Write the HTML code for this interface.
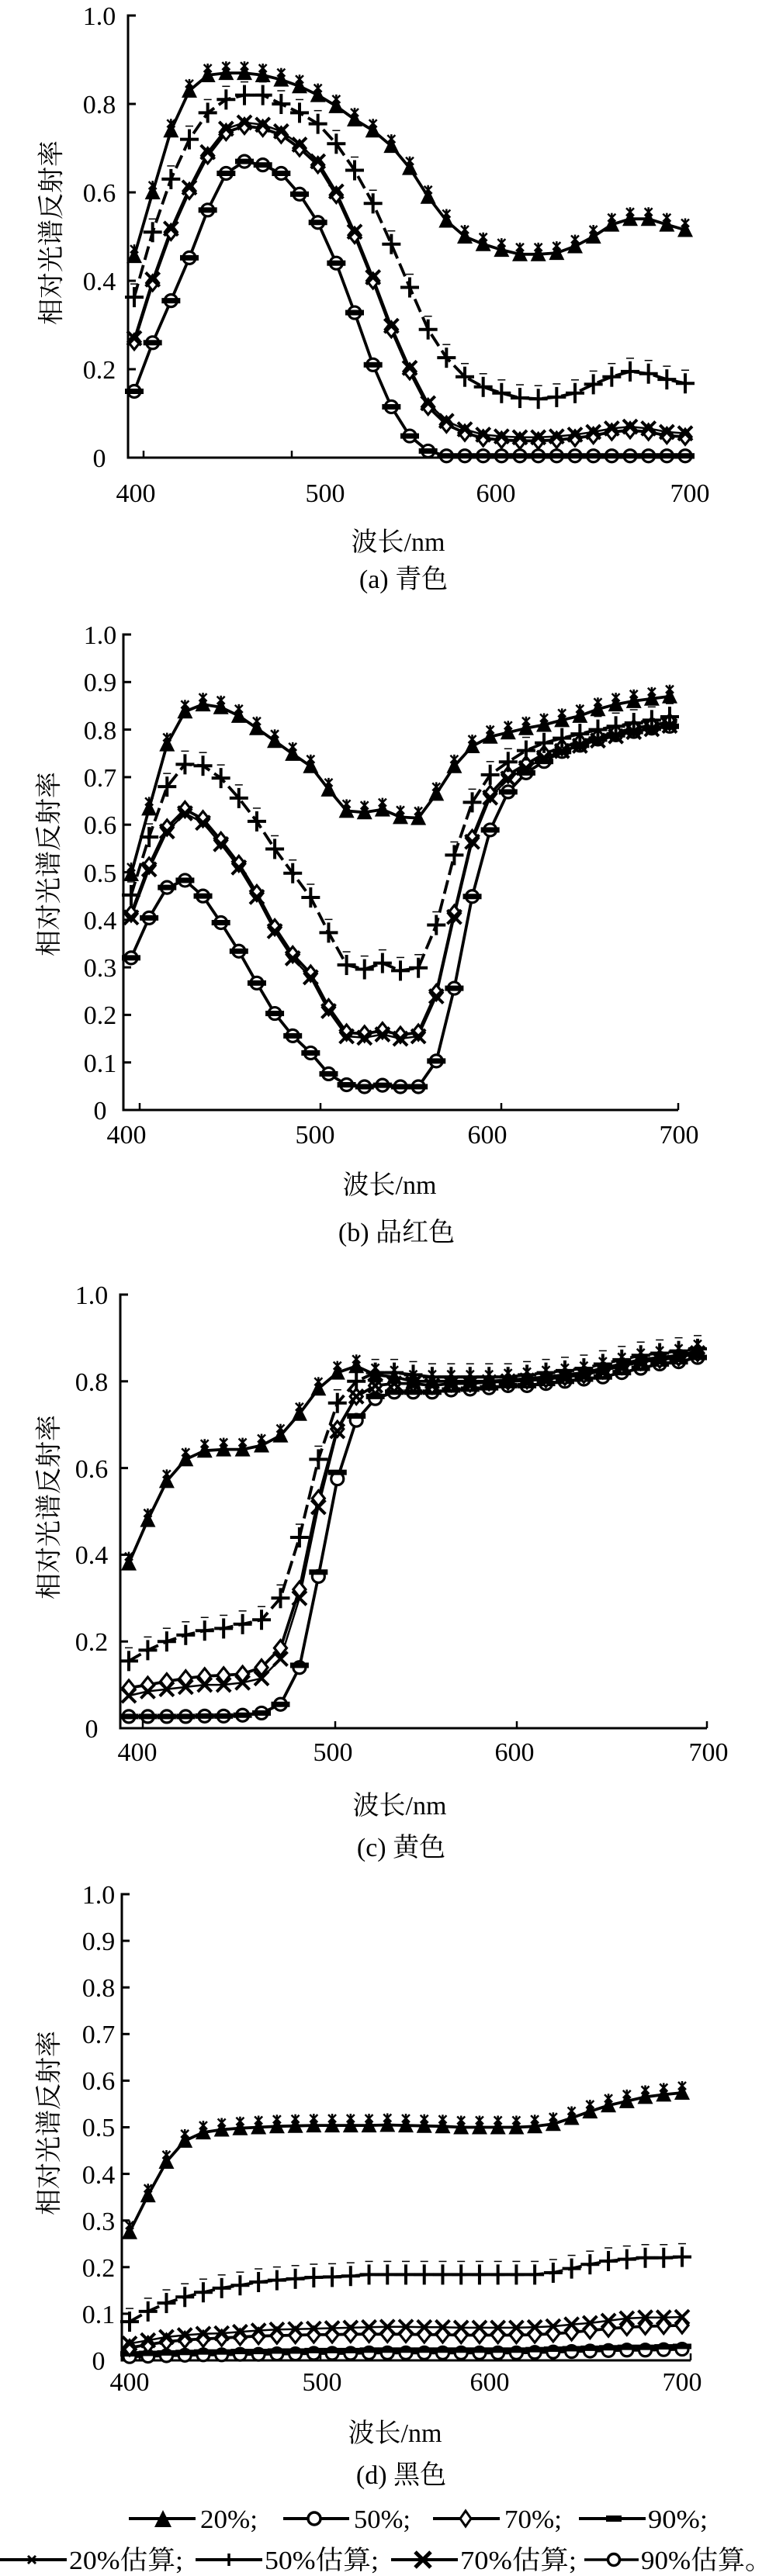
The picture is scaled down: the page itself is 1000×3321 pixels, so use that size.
<!DOCTYPE html>
<html>
<head>
<meta charset="utf-8">
<style>
html,body{margin:0;padding:0;background:#fff;}
svg{display:block;}
text{font-family:"Liberation Serif","Noto Serif CJK SC",serif;fill:#000;}
</style>
</head>
<body>
<svg id="s" width="1000" height="3321" viewBox="0 0 1000 3321" xmlns="http://www.w3.org/2000/svg">
<rect x="0" y="0" width="1000" height="3321" fill="#fff"/>
<g id="plots"></g>

<!-- Panel a tick labels -->
<g font-size="34" text-anchor="middle">
<text x="128" y="602">0</text>
<text x="128" y="488">0.2</text>
<text x="128" y="374">0.4</text>
<text x="128" y="260">0.6</text>
<text x="128" y="146">0.8</text>
<text x="128" y="32">1.0</text>
<text x="175" y="647">400</text>
<text x="419" y="647">500</text>
<text x="639" y="647">600</text>
<text x="889" y="647">700</text>
</g>
<!-- Panel b tick labels -->
<g font-size="34" text-anchor="middle">
<text x="129" y="1443">0</text>
<text x="129" y="1382">0.1</text>
<text x="129" y="1320">0.2</text>
<text x="129" y="1259">0.3</text>
<text x="129" y="1198">0.4</text>
<text x="129" y="1137">0.5</text>
<text x="129" y="1075">0.6</text>
<text x="129" y="1014">0.7</text>
<text x="129" y="953">0.8</text>
<text x="129" y="891">0.9</text>
<text x="129" y="830">1.0</text>
<text x="163" y="1474">400</text>
<text x="406" y="1474">500</text>
<text x="628" y="1474">600</text>
<text x="875" y="1474">700</text>
</g>
<!-- Panel c tick labels -->
<g font-size="34" text-anchor="middle">
<text x="118" y="2240">0</text>
<text x="118" y="2128">0.2</text>
<text x="118" y="2016">0.4</text>
<text x="118" y="1905">0.6</text>
<text x="118" y="1793">0.8</text>
<text x="118" y="1681">1.0</text>
<text x="177" y="2270">400</text>
<text x="429" y="2270">500</text>
<text x="663" y="2270">600</text>
<text x="913" y="2270">700</text>
</g>
<!-- Panel d tick labels -->
<g font-size="34" text-anchor="middle">
<text x="127" y="3055">0</text>
<text x="127" y="2995">0.1</text>
<text x="127" y="2935">0.2</text>
<text x="127" y="2875">0.3</text>
<text x="127" y="2815">0.4</text>
<text x="127" y="2754">0.5</text>
<text x="127" y="2694">0.6</text>
<text x="127" y="2634">0.7</text>
<text x="127" y="2574">0.8</text>
<text x="127" y="2514">0.9</text>
<text x="127" y="2454">1.0</text>
<text x="167" y="3082">400</text>
<text x="415" y="3082">500</text>
<text x="631" y="3082">600</text>
<text x="879" y="3082">700</text>
</g>

<!-- Axis titles and captions -->
<g font-size="34" text-anchor="middle">
<text x="513" y="710">波长/nm</text>
<text x="520" y="758">(a) 青色</text>
<text x="502" y="1539">波长/nm</text>
<text x="511" y="1600">(b) 品红色</text>
<text x="515" y="2339">波长/nm</text>
<text x="517" y="2393">(c) 黄色</text>
<text x="509" y="3148">波长/nm</text>
<text x="517" y="3202">(d) 黑色</text>
<text transform="translate(67,300) rotate(-90)" dominant-baseline="central">相对光谱反射率</text>
<text transform="translate(64,1114) rotate(-90)" dominant-baseline="central">相对光谱反射率</text>
<text transform="translate(64,1943) rotate(-90)" dominant-baseline="central">相对光谱反射率</text>
<text transform="translate(64,2737) rotate(-90)" dominant-baseline="central">相对光谱反射率</text>
</g>

<!-- Legend text -->
<g font-size="34">
<text x="258" y="3259" textLength="74" lengthAdjust="spacingAndGlyphs">20%;</text>
<text x="456" y="3259" textLength="73" lengthAdjust="spacingAndGlyphs">50%;</text>
<text x="650" y="3259" textLength="74" lengthAdjust="spacingAndGlyphs">70%;</text>
<text x="835" y="3259" textLength="77" lengthAdjust="spacingAndGlyphs">90%;</text>
<text x="89" y="3312" textLength="147" lengthAdjust="spacingAndGlyphs">20%估算;</text>
<text x="341" y="3312" textLength="147" lengthAdjust="spacingAndGlyphs">50%估算;</text>
<text x="593" y="3312" textLength="150" lengthAdjust="spacingAndGlyphs">70%估算;</text>
<text x="826" y="3312" textLength="169" lengthAdjust="spacingAndGlyphs">90%估算。</text>
</g>
</svg>
<script>
(function(){
const NS="http://www.w3.org/2000/svg";
const G=document.getElementById('plots');
function mk(t,a){const e=document.createElementNS(NS,t);for(const k in a)e.setAttribute(k,a[k]);G.appendChild(e);return e;}
function ln(x1,y1,x2,y2,w){mk('line',{x1:x1,y1:y1,x2:x2,y2:y2,stroke:'#000','stroke-width':w||3});}
function poly(pts,dash,w){const a={points:pts.map(p=>p[0].toFixed(1)+','+p[1].toFixed(1)).join(' '),fill:'none',stroke:'#000','stroke-width':w||3.5,'stroke-linejoin':'round'};if(dash)a['stroke-dasharray']=dash;mk('polyline',a);}
const M={
 tri:(x,y,s)=>{s=s||10;mk('polygon',{points:`${x},${y-s-1} ${x-s},${y+s-1} ${x+s},${y+s-1}`,fill:'#000'});},
 star:(x,y)=>{y=y-9;ln(x-5,y-5,x+5,y+5,2.5);ln(x-5,y+5,x+5,y-5,2.5);ln(x,y-6,x,y+6,2.5);},
 plus:(x,y)=>{ln(x-12,y,x+12,y,4);ln(x,y-13,x,y+13,4);},
 tick:(x,y)=>ln(x-5,y-17,x+5,y-17,1.5),
 dia:(x,y)=>mk('polygon',{points:`${x},${y-10} ${x+8},${y} ${x},${y+10} ${x-8},${y}`,fill:'#fff',stroke:'#000','stroke-width':3.2}),
 X:(x,y)=>{ln(x-9,y-9,x+9,y+9,4);ln(x-9,y+9,x+9,y-9,4);},
 cir:(x,y)=>mk('circle',{cx:x,cy:y,r:8,fill:'#fff',stroke:'#000','stroke-width':3.2}),
 bar:(x,y)=>mk('rect',{x:x-12,y:y-3.5,width:24,height:7,fill:'#000'})
};
function add(arr,d){return arr.map(v=>v+d);}

// Panel a data
const aT=[0.456,0.60,0.74,0.83,0.865,0.87,0.87,0.865,0.855,0.84,0.82,0.795,0.765,0.74,0.705,0.655,0.59,0.536,0.50,0.483,0.47,0.46,0.46,0.463,0.478,0.50,0.527,0.54,0.54,0.527,0.515];
const aP=[0.363,0.51,0.63,0.72,0.78,0.81,0.82,0.82,0.80,0.78,0.755,0.71,0.65,0.575,0.483,0.385,0.29,0.226,0.183,0.16,0.146,0.135,0.133,0.137,0.146,0.166,0.183,0.195,0.19,0.177,0.168];
const aD=[0.262,0.395,0.51,0.603,0.683,0.736,0.75,0.745,0.73,0.70,0.662,0.594,0.503,0.40,0.29,0.195,0.115,0.075,0.056,0.044,0.04,0.038,0.038,0.04,0.044,0.05,0.058,0.062,0.058,0.05,0.047];
const aO=[0.15,0.26,0.355,0.452,0.56,0.643,0.67,0.662,0.643,0.596,0.532,0.44,0.328,0.21,0.115,0.049,0.015,0.004,0.004,0.004,0.004,0.004,0.004,0.004,0.004,0.004,0.004,0.004,0.004,0.004,0.004];
// Panel b
const bT=[0.496,0.634,0.769,0.838,0.853,0.847,0.829,0.803,0.776,0.749,0.723,0.674,0.629,0.626,0.632,0.616,0.614,0.665,0.723,0.765,0.785,0.794,0.803,0.81,0.82,0.829,0.843,0.853,0.86,0.865,0.87];
const bP=[0.452,0.574,0.68,0.727,0.724,0.698,0.656,0.607,0.549,0.498,0.447,0.373,0.305,0.296,0.309,0.293,0.299,0.389,0.536,0.647,0.705,0.732,0.756,0.772,0.782,0.791,0.80,0.807,0.814,0.82,0.827];
const bD=[0.413,0.514,0.594,0.632,0.612,0.567,0.518,0.456,0.384,0.327,0.287,0.216,0.163,0.16,0.167,0.158,0.163,0.247,0.414,0.572,0.665,0.705,0.727,0.749,0.763,0.774,0.785,0.794,0.803,0.809,0.816];
const bO=[0.32,0.404,0.468,0.483,0.45,0.394,0.334,0.267,0.203,0.156,0.12,0.076,0.053,0.049,0.052,0.049,0.049,0.103,0.256,0.449,0.589,0.669,0.709,0.733,0.754,0.767,0.78,0.789,0.796,0.803,0.807];
// Panel c
const cT=[0.38,0.48,0.57,0.62,0.64,0.643,0.643,0.652,0.675,0.725,0.783,0.82,0.835,0.815,0.81,0.80,0.80,0.80,0.80,0.80,0.803,0.806,0.81,0.815,0.82,0.83,0.84,0.85,0.855,0.86,0.87];
const cP=[0.155,0.18,0.20,0.215,0.225,0.23,0.24,0.25,0.30,0.44,0.62,0.75,0.80,0.82,0.82,0.815,0.81,0.81,0.81,0.81,0.81,0.815,0.82,0.825,0.83,0.84,0.85,0.86,0.865,0.87,0.875];
const cD=[0.093,0.10,0.108,0.115,0.12,0.122,0.125,0.14,0.185,0.32,0.53,0.69,0.765,0.79,0.795,0.795,0.79,0.795,0.795,0.798,0.80,0.802,0.805,0.81,0.815,0.825,0.835,0.845,0.85,0.855,0.865];
const cX=[0.075,0.085,0.09,0.095,0.10,0.10,0.105,0.115,0.16,0.30,0.51,0.685,0.765,0.79,0.795,0.795,0.79,0.795,0.795,0.798,0.80,0.802,0.805,0.81,0.815,0.825,0.835,0.845,0.85,0.855,0.865];
const cO=[0.027,0.027,0.027,0.027,0.028,0.028,0.03,0.035,0.055,0.14,0.35,0.575,0.71,0.76,0.775,0.775,0.775,0.78,0.782,0.785,0.79,0.79,0.795,0.80,0.805,0.81,0.82,0.83,0.84,0.845,0.855];
const cB=[0.027,0.027,0.027,0.027,0.028,0.028,0.03,0.035,0.055,0.145,0.36,0.59,0.72,0.765,0.775,0.775,0.775,0.78,0.782,0.785,0.79,0.79,0.795,0.80,0.805,0.81,0.82,0.83,0.84,0.845,0.855];
// Panel d
const dT=[0.275,0.354,0.426,0.471,0.489,0.495,0.498,0.50,0.502,0.503,0.504,0.504,0.504,0.504,0.505,0.504,0.503,0.502,0.50,0.50,0.50,0.50,0.502,0.507,0.52,0.534,0.547,0.556,0.565,0.57,0.574];
const dP=[0.083,0.105,0.123,0.136,0.146,0.155,0.161,0.168,0.172,0.175,0.178,0.179,0.181,0.184,0.184,0.184,0.184,0.184,0.184,0.184,0.184,0.184,0.184,0.188,0.197,0.206,0.213,0.217,0.22,0.22,0.222];
const dX=[0.036,0.043,0.05,0.054,0.057,0.058,0.061,0.064,0.066,0.067,0.068,0.069,0.07,0.071,0.072,0.072,0.071,0.071,0.07,0.07,0.07,0.07,0.071,0.073,0.077,0.08,0.085,0.09,0.092,0.092,0.093];
const dD=[0.027,0.034,0.04,0.044,0.046,0.048,0.05,0.052,0.053,0.054,0.055,0.055,0.056,0.056,0.056,0.056,0.055,0.055,0.054,0.054,0.054,0.054,0.055,0.057,0.06,0.064,0.068,0.071,0.073,0.074,0.075];
const dO=[0.008,0.009,0.01,0.011,0.012,0.012,0.013,0.013,0.014,0.014,0.015,0.015,0.015,0.016,0.016,0.016,0.016,0.016,0.016,0.016,0.016,0.016,0.017,0.018,0.019,0.02,0.021,0.022,0.022,0.023,0.024];

const panels=[
 {x0:173,x1:883,y0:590,ppu:570,ax:165,top:20,end:895,step:0.2,xt:[185,376],
  T:aT,P:aP,D:aD,X:add(aD,0.008),O:aO,B:aO},
 {x0:169,x1:863,y0:1431,ppu:613,ax:159,top:818,end:874,step:0.1,xt:[180,413,646,874],
  T:bT,P:bP,D:bD,X:add(bD,-0.008),O:bO,B:bO},
 {x0:166,x1:899,y0:2228,ppu:559,ax:155,top:1669,end:911,step:0.2,xt:[184,432,666,911],
  T:cT,P:cP,D:cD,X:cX,O:cO,B:cB},
 {x0:167,x1:879,y0:3043,ppu:601,ax:157,top:2442,end:890,step:0.1,xt:[180,413,646,890],
  T:dT,P:dP,D:dD,X:dX,O:dO,B:add(dO,0.006)}
];

panels.forEach(p=>{
  ln(p.ax,p.top-1.5,p.ax,p.y0+1.5,3);
  ln(p.ax-1.5,p.y0,p.end,p.y0,3);
  const n=Math.round(1/p.step);
  for(let k=1;k<=n;k++){const y=p.y0-p.ppu*p.step*k;ln(p.ax,y,p.ax+10,y,3);}
  p.xt.forEach(x=>ln(x,p.y0,x,p.y0-9,2.5));
  const sp=(p.x1-p.x0)/30;
  const pts=arr=>arr.map((v,i)=>[p.x0+sp*i,p.y0-p.ppu*v]);
  const O=pts(p.O),B=pts(p.B),D=pts(p.D),X=pts(p.X),P=pts(p.P),T=pts(p.T);
  poly(O,null,3.8);
  O.forEach(q=>M.cir(q[0],q[1]));
  B.forEach(q=>M.bar(q[0],q[1]));
  poly(X,null,2.5);
  poly(D,null,3.8);
  D.forEach(q=>M.dia(q[0],q[1]));
  X.forEach(q=>M.X(q[0],q[1]));
  poly(P,'18 7',3.8);
  P.forEach(q=>M.plus(q[0],q[1]));
  P.forEach(q=>M.tick(q[0],q[1]));
  poly(T,null,3.8);
  T.forEach(q=>M.tri(q[0],q[1]));
  T.forEach(q=>M.star(q[0],q[1]));
});

const r1=3247,r2=3300;
ln(166,r1,252,r1,4);M.tri(210,r1+1,11);
ln(365,r1,450,r1,4);mk('circle',{cx:405,cy:r1,r:8,fill:'#fff',stroke:'#000','stroke-width':3.5});
ln(558,r1,644,r1,4);mk('polygon',{points:`600,${r1-10} 607,${r1} 600,${r1+10} 593,${r1}`,fill:'#fff',stroke:'#000','stroke-width':3});
ln(746,r1,832,r1,4);mk('rect',{x:781,y:r1-4,width:20,height:8,fill:'#000'});
ln(0,r2,86,r2,4);ln(36,r2-5,46,r2+5,3);ln(36,r2+5,46,r2-5,3);
ln(252,r2,338,r2,4);ln(295,r2-8,295,r2+8,3.5);ln(287,r2,303,r2,3.5);
ln(504,r2,590,r2,4);ln(535,r2-10,555,r2+10,5);ln(535,r2+10,555,r2-10,5);
ln(753,r2,823,r2,3.5);mk('circle',{cx:791,cy:r2,r:7.5,fill:'#fff',stroke:'#000','stroke-width':3.5});
})();
</script>
</body>
</html>
